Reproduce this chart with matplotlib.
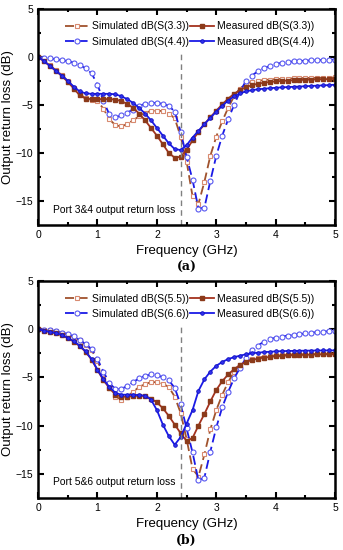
import numpy as np
import matplotlib
matplotlib.use("Agg")
import matplotlib.pyplot as plt

plt.rcParams['font.family'] = ['Liberation Sans', 'DejaVu Sans']

# frequency grid (GHz), one marker every 0.1 GHz
freq = np.round(np.arange(0, 5.01, 0.1), 1)

# panel (a): ports 3 & 4
sim33 = [0, -0.4, -0.9, -1.4, -1.9, -2.5, -3.2, -3.9, -4.3, -4.45,
         -4.6, -5.4, -6.5, -7.1, -7.25, -7.0, -6.6, -6.2, -5.8, -5.65,
         -5.6, -5.65, -5.9, -6.4, -8.3, -10.9, -14.5, -15.3, -13.0, -10.3,
         -8.3, -6.7, -5.3, -4.1, -3.3, -2.8, -2.6, -2.5, -2.42, -2.36,
         -2.32, -2.29, -2.26, -2.24, -2.22, -2.2, -2.19, -2.18, -2.17, -2.16, -2.15]
sim44 = [0, -0.1, -0.15, -0.25, -0.35, -0.45, -0.6, -0.85, -1.2, -1.7,
         -2.9, -4.6, -6.0, -6.3, -6.1, -5.8, -5.5, -5.1, -4.9, -4.8,
         -4.8, -4.9, -5.1, -5.7, -7.8, -10.4, -12.8, -15.8, -15.7, -12.9,
         -10.3, -8.2, -6.5, -5.0, -3.6, -2.5, -1.95, -1.5, -1.2, -0.95,
         -0.75, -0.62, -0.54, -0.48, -0.44, -0.4, -0.37, -0.35, -0.33, -0.31, -0.3]
meas33 = [0, -0.45, -0.95, -1.45, -2.0, -2.6, -3.3, -4.0, -4.35, -4.4,
          -4.4, -4.4, -4.4, -4.45, -4.6, -4.9, -5.3, -5.9, -6.6, -7.4,
          -8.2, -9.1, -10.0, -10.5, -10.4, -9.7, -8.7, -7.8, -7.0, -6.3,
          -5.6, -4.95, -4.35, -3.85, -3.45, -3.15, -2.95, -2.8, -2.7, -2.62,
          -2.56, -2.51, -2.47, -2.44, -2.41, -2.39, -2.37, -2.35, -2.33, -2.31, -2.3]
meas44 = [0, -0.45, -0.95, -1.45, -1.95, -2.5, -3.1, -3.6, -3.8, -3.85,
          -3.85, -3.85, -3.85, -3.9, -4.1, -4.4, -4.8, -5.3, -5.9, -6.6,
          -7.4, -8.2, -9.0, -9.6, -9.7, -9.2, -8.4, -7.7, -7.0, -6.35,
          -5.7, -5.1, -4.55, -4.1, -3.8, -3.6, -3.47, -3.38, -3.32, -3.27,
          -3.22, -3.18, -3.15, -3.12, -3.09, -3.06, -3.03, -3.0, -2.97, -2.94, -2.9]

# panel (b): ports 5 & 6
sim55 = [0, -0.05, -0.12, -0.22, -0.38, -0.55, -0.8, -1.15, -1.6, -2.15,
         -3.3, -4.7, -6.1, -7.0, -7.3, -7.0, -6.5, -6.0, -5.7, -5.5,
         -5.5, -5.65, -6.0, -7.0, -8.7, -11.4, -14.5, -15.3, -13.0, -10.4,
         -8.4, -6.8, -5.5, -4.4, -3.7, -3.35, -3.1, -2.95, -2.85, -2.78,
         -2.72, -2.68, -2.65, -2.63, -2.61, -2.6, -2.59, -2.58, -2.57, -2.56, -2.55]
sim66 = [0, -0.05, -0.1, -0.2, -0.35, -0.5, -0.75, -1.1, -1.55, -2.05,
         -3.1, -4.4, -5.6, -6.2, -6.2, -5.9, -5.5, -5.1, -4.85, -4.7,
         -4.75, -5.0, -5.3, -6.1, -7.8, -10.3, -12.8, -15.7, -15.4, -12.7,
         -10.2, -8.1, -6.5, -5.1, -4.0, -3.0, -2.15, -1.7, -1.3, -1.05,
         -0.88, -0.76, -0.67, -0.6, -0.52, -0.44, -0.37, -0.3, -0.25, -0.21, -0.18]
meas55 = [0, -0.15, -0.3, -0.42, -0.62, -0.92, -1.28, -1.75, -2.35, -3.15,
          -4.25, -5.3, -6.1, -6.8, -7.0, -7.0, -6.95, -6.9, -6.95, -7.2,
          -7.6, -8.2, -9.0, -9.9, -10.8, -11.6, -11.3, -10.0, -8.8, -7.5,
          -6.3, -5.4, -4.7, -4.15, -3.7, -3.4, -3.2, -3.05, -2.95, -2.88,
          -2.82, -2.77, -2.73, -2.7, -2.68, -2.66, -2.64, -2.62, -2.61, -2.6, -2.6]
meas66 = [0, -0.15, -0.28, -0.4, -0.6, -0.9, -1.25, -1.7, -2.3, -3.1,
          -4.2, -5.2, -6.0, -6.6, -6.8, -6.8, -6.8, -6.85, -6.9, -7.3,
          -8.4, -9.9, -11.1, -12.0, -11.2, -9.8, -8.4, -6.4, -5.2, -4.4,
          -3.8, -3.4, -3.1, -2.9, -2.75, -2.6, -2.5, -2.44, -2.38, -2.34,
          -2.3, -2.28, -2.26, -2.25, -2.24, -2.23, -2.22, -2.21, -2.21, -2.2, -2.2]

panels = [
    ('(a)', 'Port 3&4 output return loss', ('3.3', '4.4'), sim33, sim44, meas33, meas44),
    ('(b)', 'Port 5&6 output return loss', ('5.5', '6.6'), sim55, sim66, meas55, meas66),
]
center_freq = 2.4

brown_line = '#A0522D'
brown_open = '#D88A70'
brown_meas = '#A4321E'
blue_line = '#1A1AE6'
blue_open = '#5858F0'

fig = plt.figure(figsize=(3.43, 5.5), dpi=100)
axes_pos = [[0.111, 0.591, 0.866, 0.393], [0.111, 0.095, 0.866, 0.394]]

for pos, (tag, note, ports, s1, s2, m1, m2) in zip(axes_pos, panels):
    ax = fig.add_axes(pos)
    h_s1, = ax.plot(freq, s1, color=brown_line, lw=1.3, dashes=(5, 2.5),
                    marker='s', ms=3.3, mfc='white', mec=brown_open, mew=0.8)
    h_s2, = ax.plot(freq, s2, color=blue_line, lw=1.3, dashes=(5, 2.5),
                    marker='o', ms=3.6, mfc='white', mec=blue_open, mew=0.8)
    h_m1, = ax.plot(freq, m1, color=brown_meas, lw=1.3,
                    marker='s', ms=2.6, mfc='#8B3A1A', mec='#8B3A1A')
    h_m2, = ax.plot(freq, m2, color=blue_line, lw=1.3,
                    marker='o', ms=2.6, mfc='#3030F0', mec='#1010C0', mew=0.6)
    ax.axvline(center_freq, ymax=0.8, color='gray', lw=1.0, dashes=(4, 3))

    ax.set_xlim(0, 5)
    ax.set_ylim(-17.5, 5)
    ax.set_xticks([0, 1, 2, 3, 4, 5])
    ax.set_yticks([5, 0, -5, -10, -15])
    ax.set_xticks(np.arange(0.5, 5, 1), minor=True)
    ax.set_yticks([2.5, -2.5, -7.5, -12.5], minor=True)
    ax.tick_params(which='both', direction='in', top=True, right=True,
                   labelsize=7.5, width=1.5, pad=3.5)
    ax.tick_params(which='major', length=4)
    ax.tick_params(which='minor', length=2.5)
    for sp in ax.spines.values():
        sp.set_linewidth(1.8)

    ax.set_xlabel('Frequency (GHz)', fontsize=9.5, labelpad=4)
    ax.set_ylabel('Output return loss (dB)', fontsize=9.5, labelpad=1)
    ax.text(0.25, -15.9, note, fontsize=7.4, va='center')
    ax.text(0.5, -0.197, tag, transform=ax.transAxes, ha='center', va='center',
            fontsize=9, fontweight='bold', family='DejaVu Serif')

    ax.legend([h_s1, h_s2, h_m1, h_m2],
              [f'Simulated dB(S({ports[0]}))', f'Simulated dB(S({ports[1]}))',
               f'Measured dB(S({ports[0]}))', f'Measured dB(S({ports[1]}))'],
              ncol=2, loc='upper left', bbox_to_anchor=(0.065, 0.975),
              frameon=False, fontsize=7.5, handlelength=2.3, handletextpad=0.3,
              columnspacing=0.15, labelspacing=0.5, borderpad=0.2)

fig.savefig('out.png', dpi=100)
